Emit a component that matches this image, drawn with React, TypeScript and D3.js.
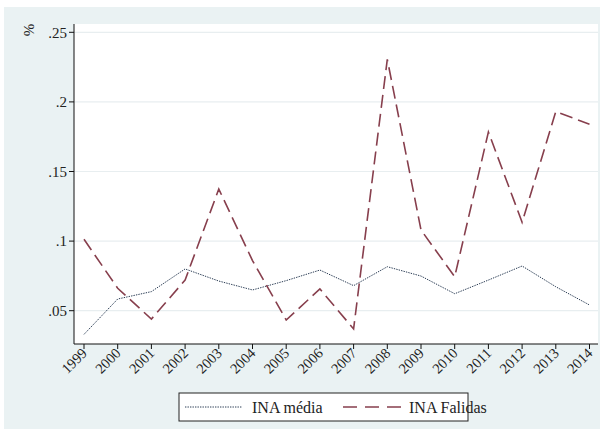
import React from "react";
import * as d3 from "d3";

const years = [1999, 2000, 2001, 2002, 2003, 2004, 2005, 2006, 2007, 2008, 2009, 2010, 2011, 2012, 2013, 2014];
const inaMedia = [0.033, 0.0584, 0.0637, 0.080, 0.0713, 0.0649, 0.0716, 0.0792, 0.068, 0.0816, 0.0749, 0.0622, 0.072, 0.0821, 0.0672, 0.0541];
const inaFalidas = [0.1013, 0.0661, 0.044, 0.072, 0.1374, 0.086, 0.0433, 0.0656, 0.0369, 0.2306, 0.108, 0.0744, 0.1784, 0.1135, 0.193, 0.184];
const yTicks = [0.05, 0.1, 0.15, 0.2, 0.25];
const yTickLabels = [".05", ".1", ".15", ".2", ".25"];
const seriesNames = ["INA média", "INA Falidas"];

const W = 604;
const H = 434;
const plot = { left: 74, right: 598, top: 24, bottom: 344 };
const font = "'Liberation Serif'";
const textColor = "#222";
const navy = "#2b3d55";
const maroon = "#873f4d";

export default function App() {
  const x = d3.scaleLinear().domain([1999, 2014]).range([84, 589.5]);
  const y = d3.scaleLinear().domain([0.05, 0.25]).range([310.7, 32.3]);

  const line = d3
    .line<number>()
    .x((_, i) => x(years[i]))
    .y((d) => y(d));

  const txt = { fontFamily: font, fill: textColor } as React.CSSProperties;

  return (
    <svg width={W} height={H} style={{ position: "absolute", left: 0, top: 0, background: "#ffffff" }}>
      <rect x={4} y={7} width={596} height={422} fill="#eaf2f3" />
      <rect x={plot.left} y={plot.top} width={plot.right - plot.left} height={plot.bottom - plot.top} fill="#ffffff" />

      {/* horizontal grid */}
      {yTicks.map((t) => (
        <line key={`g${t}`} x1={plot.left} x2={plot.right} y1={y(t)} y2={y(t)} stroke="#e8eef0" strokeWidth={1.2} />
      ))}

      {/* series */}
      <path d={line(inaMedia) ?? ""} fill="none" stroke={navy} strokeWidth={1} strokeDasharray="1.4,1.1" />
      <path d={line(inaFalidas) ?? ""} fill="none" stroke={maroon} strokeWidth={1.6} strokeDasharray="13,6" />

      {/* axes */}
      <line x1={plot.left} x2={plot.left} y1={plot.top} y2={plot.bottom} stroke="#111" strokeWidth={1} />
      <line x1={plot.left} x2={plot.right} y1={plot.bottom} y2={plot.bottom} stroke="#111" strokeWidth={1} />

      {yTicks.map((t, i) => (
        <g key={`y${t}`}>
          <line x1={plot.left - 5} x2={plot.left} y1={y(t)} y2={y(t)} stroke="#111" />
          <text x={plot.left - 7} y={y(t)} dy="0.35em" textAnchor="end" fontSize={15} style={txt}>
            {yTickLabels[i]}
          </text>
        </g>
      ))}
      <text transform={`translate(34,30) rotate(-90)`} textAnchor="middle" fontSize={15} style={txt}>
        %
      </text>

      {years.map((yr) => (
        <g key={`x${yr}`}>
          <line x1={x(yr)} x2={x(yr)} y1={plot.bottom} y2={plot.bottom + 5} stroke="#111" />
          <text
            transform={`translate(${x(yr) + 4},${plot.bottom + 10}) rotate(-45)`}
            textAnchor="end"
            fontSize={14.5}
            style={txt}
          >
            {yr}
          </text>
        </g>
      ))}

      {/* legend */}
      <rect x={179} y={393} width={289} height={28} fill="#ffffff" stroke="#222" strokeWidth={1} />
      <line x1={185} x2={242} y1={407} y2={407} stroke={navy} strokeWidth={1} strokeDasharray="1.4,1.1" />
      <text x={252} y={407} dy="0.35em" fontSize={16} style={txt}>
        {seriesNames[0]}
      </text>
      <line x1={343} x2={401} y1={407} y2={407} stroke={maroon} strokeWidth={1.6} strokeDasharray="14,8" />
      <text x={409} y={407} dy="0.35em" fontSize={16} style={txt}>
        {seriesNames[1]}
      </text>
    </svg>
  );
}
